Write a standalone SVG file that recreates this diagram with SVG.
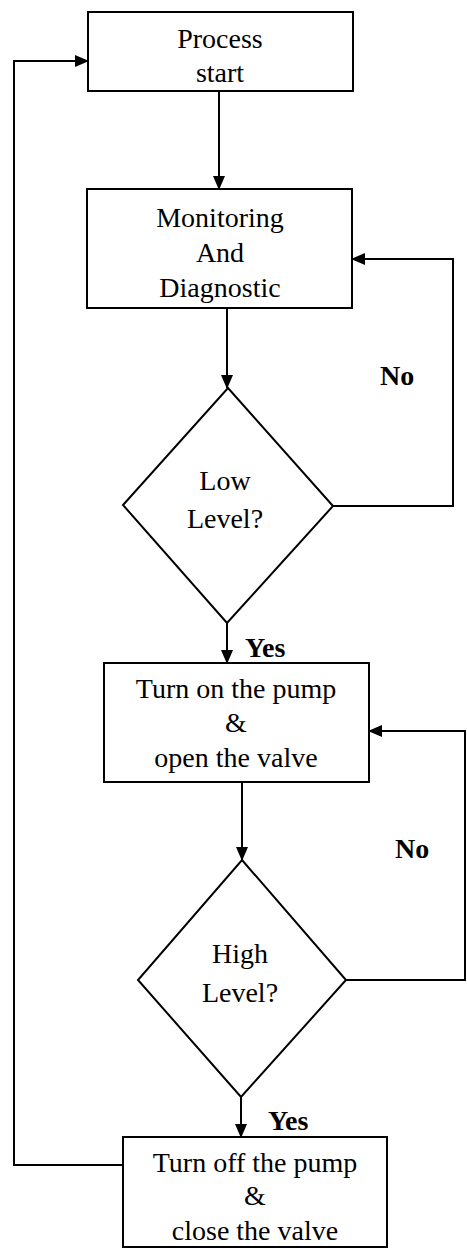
<svg xmlns="http://www.w3.org/2000/svg" width="467" height="1249" viewBox="0 0 467 1249">
<defs>
<marker id="ah" markerUnits="userSpaceOnUse" markerWidth="14" markerHeight="12" refX="13" refY="6" orient="auto">
<path d="M0,0 L14,6 L0,12 Z" fill="#000"/>
</marker>
<style>
.box{fill:#fff;stroke:#000;stroke-width:2}
.t{font-family:"Liberation Serif","Times New Roman",serif;font-size:28px;fill:#000;text-anchor:middle}
.b{font-family:"Liberation Serif","Times New Roman",serif;font-size:28px;font-weight:bold;fill:#000}
.c{fill:none;stroke:#000;stroke-width:2;marker-end:url(#ah)}
</style>
</defs>
<rect width="467" height="1249" fill="#fff"/>
<g id="connectors">
<path class="c" d="M219,91 L219,189"/>
<path class="c" d="M227,308 L227,388"/>
<path class="c" d="M227,623 L227,663"/>
<path class="c" d="M242,782 L242,860"/>
<path class="c" d="M241,1097 L241,1137"/>
<path class="c" d="M333,506 L453,506 L453,259 L352,259"/>
<path class="c" d="M346,980 L465,980 L465,731 L369,731"/>
<path class="c" d="M123,1165 L14,1165 L14,61 L88,61"/>
<text class="b" x="380" y="385">No</text>
<text class="b" x="395" y="858">No</text>
<text class="b" x="245" y="657">Yes</text>
<text class="b" x="268" y="1130">Yes</text>
</g>
<g id="process-start">
<rect class="box" x="88" y="12" width="265" height="79"/>
<text class="t" x="220" y="48">Process</text>
<text class="t" x="220" y="82">start</text>
</g>
<g id="monitoring">
<rect class="box" x="87" y="189" width="265" height="119"/>
<text class="t" x="220" y="227">Monitoring</text>
<text class="t" x="220" y="262">And</text>
<text class="t" x="220" y="297">Diagnostic</text>
</g>
<g id="low-level">
<polygon class="box" points="228,388 333,506 227,623 123,505"/>
<text class="t" x="225" y="490">Low</text>
<text class="t" x="225" y="528">Level?</text>
</g>
<g id="pump-on">
<rect class="box" x="104" y="663" width="265" height="119"/>
<text class="t" x="236" y="698">Turn on the pump</text>
<text class="t" x="236" y="732">&amp;</text>
<text class="t" x="236" y="767">open the valve</text>
</g>
<g id="high-level">
<polygon class="box" points="242,860 346,980 241,1097 138,980"/>
<text class="t" x="240" y="963">High</text>
<text class="t" x="240" y="1002">Level?</text>
</g>
<g id="pump-off">
<rect class="box" x="123" y="1137" width="264" height="110"/>
<text class="t" x="255" y="1172">Turn off the pump</text>
<text class="t" x="255" y="1205">&amp;</text>
<text class="t" x="255" y="1240">close the valve</text>
</g>
</svg>
